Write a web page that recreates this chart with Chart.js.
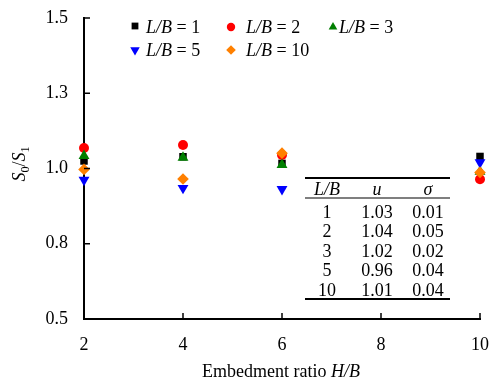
<!DOCTYPE html>
<html>
<head>
<meta charset="utf-8">
<script src="https://cdn.jsdelivr.net/npm/chart.js@4"></script>
<style>
  html, body { margin: 0; padding: 0; background: #fff; }
  #wrap { width: 489px; height: 383px; }
</style>
</head>
<body>
<div id="wrap"><canvas id="myChart" width="489" height="383"></canvas></div>
<script>
// embedment ratio H/B
const xs = [2, 4, 6, 10];
// S0/S1 for each L/B
const lb1 = [1.025, 1.039, 1.017, 1.040];
const lb2 = [1.068, 1.078, 1.045, 0.964];
const lb3 = [1.042, 1.036, 1.012, 0.990];
const lb5 = [0.962, 0.935, 0.931, 1.020];
const lb10 = [0.997, 0.965, 1.051, 0.987];
const seriesNames = ['1', '2', '3', '5', '10'];

// summary table
const tableLB = ['1', '2', '3', '5', '10'];
const tableU = ['1.03', '1.04', '1.02', '0.96', '1.01'];
const tableSigma = ['0.01', '0.05', '0.02', '0.04', '0.04'];

const xTicks = [2, 4, 6, 8, 10];
const yTicks = [0.5, 0.75, 1.0, 1.25, 1.5];

const serif = '"Liberation Serif", "Times New Roman", serif';

const styles = [
    { color: '#000000', shape: 'rect', radius: 5.3, legendRadius: 4.8, rotation: 0 },
    { color: '#ff0000', shape: 'circle', radius: 5, legendRadius: 4.2, rotation: 0 },
    { color: '#007f00', shape: 'triangle', radius: 6.3, legendRadius: 5, rotation: 0 },
    { color: '#0000ff', shape: 'triangle', radius: 6.3, legendRadius: 5.5, rotation: 180 },
    { color: '#ff8000', shape: 'rectRot', radius: 5.8, legendRadius: 4.8, rotation: 0 },
];

const allSeries = [lb1, lb2, lb3, lb5, lb10];

const datasets = allSeries.map((vals, i) => ({
    label: 'L/B = ' + seriesNames[i],
    data: xs.map((x, j) => ({ x: x, y: vals[j] })),
    showLine: false,
    pointStyle: styles[i].shape,
    pointRotation: styles[i].rotation,
    pointRadius: styles[i].radius,
    pointHoverRadius: styles[i].radius,
    pointBackgroundColor: styles[i].color,
    pointBorderColor: styles[i].color,
    pointBorderWidth: 0,
    clip: false,
    order: allSeries.length - i
}));

// draw text pieces, some italic, left to right
const drawRich = (ctx, parts, x, y, size) => {
    let cx = x;
    parts.forEach(p => {
        ctx.font = (p.italic ? 'italic ' : '') + (p.sub ? size * 0.68 : size) + 'px ' + serif;
        ctx.fillText(p.t, cx, y + (p.sub ? size * 0.22 : 0));
        cx += ctx.measureText(p.t).width;
    });
    return cx - x;
};
const measureRich = (ctx, parts, size) => {
    let w = 0;
    parts.forEach(p => {
        ctx.font = (p.italic ? 'italic ' : '') + (p.sub ? size * 0.68 : size) + 'px ' + serif;
        w += ctx.measureText(p.t).width;
    });
    return w;
};

const extras = {
    id: 'extras',
    afterDraw(c) {
        const ctx = c.ctx;
        const xs_ = c.scales.x, ys_ = c.scales.y;
        const area = c.chartArea;
        ctx.save();
        ctx.fillStyle = '#000';
        ctx.strokeStyle = '#000';

        // inward ticks
        ctx.lineWidth = 1.5;
        xTicks.forEach(v => {
            const px = xs_.getPixelForValue(v);
            ctx.beginPath();
            ctx.moveTo(px, area.bottom);
            ctx.lineTo(px, area.bottom - 6);
            ctx.stroke();
        });
        yTicks.forEach(v => {
            const py = ys_.getPixelForValue(v);
            ctx.beginPath();
            ctx.moveTo(area.left, py);
            ctx.lineTo(area.left + 6, py);
            ctx.stroke();
        });

        // legend
        const legendPos = [
            [135, 26, 146, 33], [231, 27, 246, 33], [333, 27, 339, 33],
            [135, 50, 146, 56], [231, 50, 246, 56]
        ];
        ctx.textBaseline = 'alphabetic';
        ctx.textAlign = 'left';
        legendPos.forEach((p, i) => {
            const st = styles[i];
            ctx.fillStyle = st.color;
            ctx.strokeStyle = st.color;
            Chart.helpers.drawPoint(ctx, {
                pointStyle: st.shape, rotation: st.rotation,
                radius: st.legendRadius, borderWidth: 0
            }, p[0], p[1]);
            ctx.fillStyle = '#000';
            drawRich(ctx, [{ t: 'L/B', italic: true }, { t: ' = ' + seriesNames[i] }], p[2], p[3], 18);
        });

        // table
        const tl = 305, tr = 450;
        ctx.strokeStyle = '#000';
        ctx.lineWidth = 2;
        ctx.beginPath(); ctx.moveTo(tl, 178); ctx.lineTo(tr, 178); ctx.stroke();
        ctx.beginPath(); ctx.moveTo(tl, 299); ctx.lineTo(tr, 299); ctx.stroke();
        ctx.lineWidth = 1.2;
        ctx.beginPath(); ctx.moveTo(tl, 198); ctx.lineTo(tr, 198); ctx.stroke();
        const colX = [327, 377, 428];
        const fs = 18;
        const hdr = [[{ t: 'L/B', italic: true }], [{ t: 'u', italic: true }], [{ t: 'σ', italic: true }]];
        hdr.forEach((parts, k) => {
            const w = measureRich(ctx, parts, fs);
            drawRich(ctx, parts, colX[k] - w / 2, 195, fs);
        });
        ctx.textAlign = 'center';
        ctx.font = fs + 'px ' + serif;
        tableLB.forEach((lb, r) => {
            const by = 217.5 + r * 19.5;
            ctx.fillText(lb, colX[0], by);
            ctx.fillText(tableU[r], colX[1], by);
            ctx.fillText(tableSigma[r], colX[2], by);
        });
        ctx.textAlign = 'left';

        // x title
        const xParts = [{ t: 'Embedment ratio ' }, { t: 'H/B', italic: true }];
        const xw = measureRich(ctx, xParts, 18);
        drawRich(ctx, xParts, 281 - xw / 2, 377, 18);

        // y title
        const yParts = [{ t: 'S', italic: true }, { t: '0', sub: true }, { t: '/' },
                        { t: 'S', italic: true }, { t: '1', sub: true }];
        ctx.translate(25, 164);
        ctx.rotate(-Math.PI / 2);
        const yw = measureRich(ctx, yParts, 18);
        drawRich(ctx, yParts, -yw / 2, 0, 18);
        ctx.restore();
    }
};

const initializeChart = () => {
    const ctx = document.getElementById('myChart').getContext('2d');
    new Chart(ctx, {
        type: 'scatter',
        data: { datasets: datasets },
        options: {
            responsive: false,
            animation: false,
            events: [],
            layout: { padding: { top: 18, right: 9, left: 0, bottom: 0 } },
            plugins: {
                legend: { display: false },
                tooltip: { enabled: false }
            },
            scales: {
                x: {
                    type: 'linear',
                    min: 2,
                    max: 10,
                    afterFit: (s) => { s.height = 64; s.paddingRight = 0; s.paddingLeft = 0; },
                    afterBuildTicks: (s) => { s.ticks = xTicks.map(v => ({ value: v })); },
                    grid: { display: false },
                    border: { display: true, color: '#000', width: 2 },
                    ticks: {
                        color: '#000',
                        padding: 7,
                        font: { family: serif, size: 18 },
                        maxRotation: 0,
                        callback: (v) => String(v)
                    }
                },
                y: {
                    type: 'linear',
                    min: 0.5,
                    max: 1.5,
                    afterFit: (s) => { s.width = 84; s.paddingTop = 0; s.paddingBottom = 0; },
                    afterBuildTicks: (s) => { s.ticks = yTicks.map(v => ({ value: v })); },
                    grid: { display: false },
                    border: { display: true, color: '#000', width: 2 },
                    ticks: {
                        color: '#000',
                        padding: 8,
                        font: { family: serif, size: 18 },
                        callback: (v) => v.toFixed(1)
                    }
                }
            }
        },
        plugins: [extras]
    });
}

initializeChart();
</script>
</body>
</html>
